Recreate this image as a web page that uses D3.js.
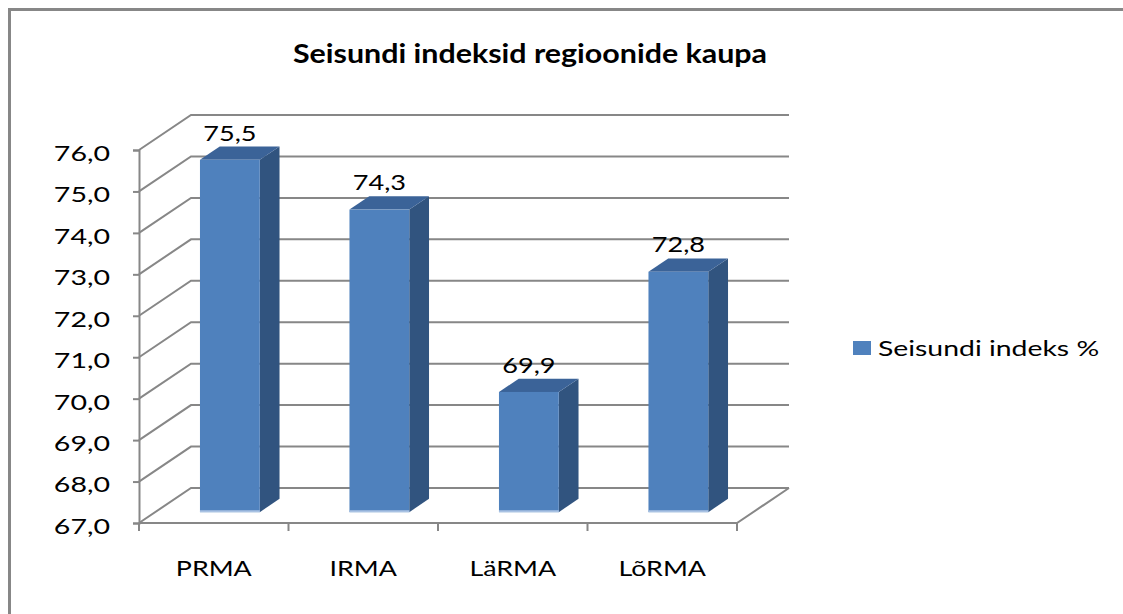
<!DOCTYPE html>
<html>
<head>
<meta charset="utf-8">
<script src="https://cdn.jsdelivr.net/npm/d3@7"></script>
<style>
  body { margin: 0; background: #fff; }
  svg { display: block; }
  text { font-family: Lato, "Open Sans", sans-serif; fill: #000; }
</style>
</head>
<body>
<svg></svg>
<script>
let categories = ['PRMA', 'IRMA', 'LäRMA', 'LõRMA']
let values = [75.5, 74.3, 69.9, 72.8]
let yTicks = [67, 68, 69, 70, 71, 72, 73, 74, 75, 76]
let seriesName = 'Seisundi indeks %'
let title = 'Seisundi indeksid regioonide kaupa'

let width = 1123
let height = 614

// 3d depth of the plot box and of the bars in it
let depthX = 52
let depthY = -35
let barFront = 0.31
let barDepth = 0.38

// the original picture is stretched sideways, so text is too
let sx = 1.22

let svg = d3.select('svg')
  .attr('width', width)
  .attr('height', height)

let fmt = (v) => d3.format('.1f')(v).replace('.', ',')

// put a text at (x, y) and stretch it horizontally
let place = (sel, x, y, s) => sel
  .attr('x', 0)
  .attr('y', 0)
  .attr('transform', `translate(${x},${y}) scale(${s},1)`)

let xScale = d3.scaleBand()
  .domain(categories)
  .range([139, 737])

let yScale = d3.scaleLinear()
  .domain([67, 76])
  .range([523, 150])

let gridColor = '#878787'

// outer frame (only top and left edges are visible)
svg.append('path')
  .attr('d', 'M9.5,614 V9.5 H1123')
  .attr('fill', 'none')
  .attr('stroke', gridColor)
  .attr('stroke-width', 3)

// title
svg.append('text')
  .attr('text-anchor', 'middle')
  .style('font-size', '26px')
  .style('font-weight', 'bold')
  .text(title)
  .call(place, 530, 63, 1.17)

let [x0, x1] = xScale.range()

// back wall and side wall gridlines
let grid = svg.append('g')
yTicks.forEach((t) => {
  let y = yScale(t)
  grid.append('path')
    .attr('d', `M${x0},${y} L${x0 + depthX},${y + depthY} H${x1 + depthX}`)
    .attr('fill', 'none')
    .attr('stroke', gridColor)
    .attr('stroke-width', 2)
})

// floor front and right edge
grid.append('path')
  .attr('d', `M${x0},${yScale(67)} H${x1} L${x1 + depthX},${yScale(67) + depthY}`)
  .attr('fill', 'none')
  .attr('stroke', gridColor)
  .attr('stroke-width', 2)

// y axis
let yAxis = d3.axisLeft(yScale)
  .tickValues(yTicks)
  .tickSize(6)
  .tickPadding(23)
  .tickFormat(fmt)

let yg = svg.append('g')
  .attr('transform', `translate(${x0}, 0)`)
  .call(yAxis)
yg.select('.domain').attr('stroke', gridColor).attr('stroke-width', 2)
yg.selectAll('.tick line').attr('stroke', gridColor).attr('stroke-width', 2)
yg.selectAll('.tick text')
  .style('font-size', '21px')
  .attr('dy', '0.4em')
  .each(function () {
    d3.select(this).call(place, -29, 2, 1.36)
  })

// x axis
let xAxis = d3.axisBottom(xScale)
  .tickSize(8)
  .tickPadding(29)
  .tickSizeOuter(0)

let xg = svg.append('g')
  .attr('transform', `translate(0, ${yScale(67)})`)
  .call(xAxis)
xg.select('.domain').remove()
xg.selectAll('.tick line').remove()
xg.selectAll('.tick text')
  .style('font-size', '22px')
  .attr('dy', '0.71em')
  .each(function () {
    d3.select(this).call(place, 0, 37, sx)
  })
// ticks sit between categories
xg.selectAll('.sep')
  .data(d3.range(categories.length + 1))
  .enter()
  .append('line')
  .attr('x1', (i) => x0 + i * xScale.step())
  .attr('x2', (i) => x0 + i * xScale.step())
  .attr('y1', 0)
  .attr('y2', 8)
  .attr('stroke', gridColor)
  .attr('stroke-width', 2)

// bars
let barW = xScale.bandwidth() * 0.4
let fx = depthX * barFront
let fy = depthY * barFront
let dx = depthX * barDepth
let dy = depthY * barDepth
let base = yScale(67) + fy

let bars = svg.selectAll('.bar')
  .data(values)
  .enter()
  .append('g')
  .attr('class', 'bar')

let barLeft = (d, i) => xScale(categories[i]) + xScale.bandwidth() / 2 - barW / 2 + fx
let barTop = (d) => yScale(d) + fy

bars.append('path')
  .attr('d', (d, i) => {
    let l = barLeft(d, i) + barW
    return `M${l},${barTop(d)} L${l + dx},${barTop(d) + dy} V${base + dy} L${l},${base} Z`
  })
  .attr('fill', '#31547f')

bars.append('path')
  .attr('d', (d, i) => {
    let l = barLeft(d, i)
    return `M${l},${barTop(d)} L${l + dx},${barTop(d) + dy} H${l + barW + dx} L${l + barW},${barTop(d)} Z`
  })
  .attr('fill', '#3b6398')

bars.append('rect')
  .attr('x', (d, i) => barLeft(d, i))
  .attr('y', (d) => barTop(d))
  .attr('width', barW)
  .attr('height', (d) => base - barTop(d))
  .attr('fill', '#4f81bd')

bars.append('line')
  .attr('x1', (d, i) => barLeft(d, i))
  .attr('x2', (d, i) => barLeft(d, i) + barW)
  .attr('y1', base - 1)
  .attr('y2', base - 1)
  .attr('stroke', '#a9c2e3')
  .attr('stroke-width', 2)

// value labels
bars.append('text')
  .attr('text-anchor', 'middle')
  .style('font-size', '21px')
  .text((d) => fmt(d))
  .each(function (d, i) {
    d3.select(this).call(place, barLeft(d, i) + barW / 2, barTop(d) + dy - 6, 1.29)
  })

// legend
svg.append('rect')
  .attr('x', 853)
  .attr('y', 341)
  .attr('width', 18)
  .attr('height', 14)
  .attr('fill', '#4f81bd')

svg.append('text')
  .style('font-size', '22px')
  .text(seriesName)
  .call(place, 878, 356, 1.29)
</script>
</body>
</html>
